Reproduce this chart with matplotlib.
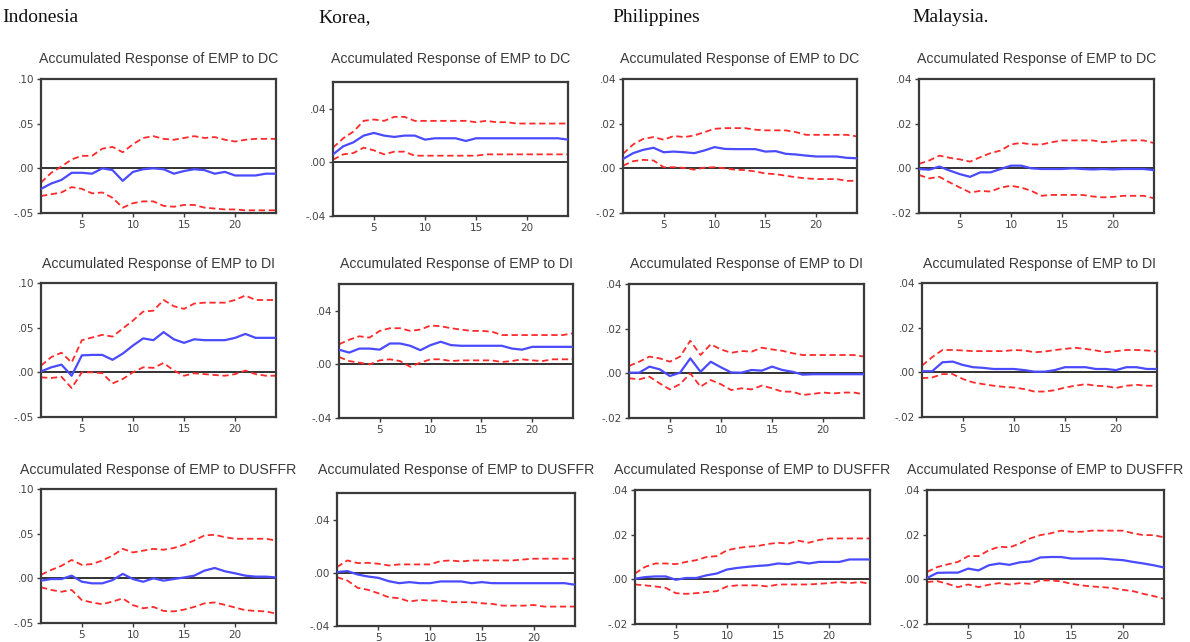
import numpy as np
import matplotlib.pyplot as plt

# periods
periods = np.arange(1, 25)

countries = ['Indonesia', 'Korea,', 'Philippines', 'Malaysia.']
shocks = ['DC', 'DI', 'DUSFFR']

# Indonesia
idn_dc_resp = [-0.023, -0.017, -0.013, -0.005, -0.005, -0.006, 0.000, -0.002, -0.014, -0.004, -0.001, 0.000,
               -0.001, -0.006, -0.003, -0.001, -0.002, -0.006, -0.004, -0.008, -0.008, -0.008, -0.006, -0.006]
idn_dc_hi = [-0.016, -0.005, 0.002, 0.010, 0.014, 0.014, 0.022, 0.024, 0.018, 0.027, 0.034, 0.036,
             0.033, 0.032, 0.034, 0.036, 0.034, 0.035, 0.032, 0.030, 0.032, 0.033, 0.033, 0.033]
idn_dc_lo = [-0.031, -0.029, -0.027, -0.021, -0.023, -0.028, -0.027, -0.033, -0.044, -0.039, -0.037, -0.037,
             -0.042, -0.043, -0.041, -0.041, -0.044, -0.045, -0.046, -0.046, -0.047, -0.047, -0.047, -0.047]
idn_di_resp = [0.001, 0.0056, 0.0086, -0.0038, 0.019, 0.0195, 0.0195, 0.014, 0.021, 0.030, 0.038, 0.036,
               0.045, 0.037, 0.033, 0.037, 0.036, 0.036, 0.036, 0.0386, 0.043, 0.0386, 0.0386, 0.0386]
idn_di_hi = [0.0075, 0.017, 0.022, 0.011, 0.036, 0.039, 0.042, 0.040, 0.049, 0.058, 0.068, 0.069,
             0.081, 0.074, 0.071, 0.077, 0.078, 0.078, 0.078, 0.081, 0.086, 0.081, 0.081, 0.081]
idn_di_lo = [-0.0056, -0.0063, -0.005, -0.0176, 0.0, 0.0, -0.001, -0.0124, -0.0075, 0.0, 0.0056, 0.005,
             0.0105, 0.002, -0.0038, -0.001, -0.002, -0.003, -0.0038, -0.002, 0.002, -0.002, -0.0038, -0.0038]
idn_us_resp = [-0.0026, -0.0008, -0.0008, 0.003, -0.0038, -0.0056, -0.0056, -0.002, 0.005, -0.0008, -0.0038, 0.0,
               -0.0026, -0.0008, 0.001, 0.003, 0.0086, 0.0116, 0.0079, 0.0056, 0.003, 0.0019, 0.0019, 0.001]
idn_us_hi = [0.004, 0.0094, 0.014, 0.0206, 0.015, 0.016, 0.0199, 0.0255, 0.033, 0.029, 0.031, 0.033,
             0.032, 0.034, 0.0376, 0.0424, 0.048, 0.0488, 0.046, 0.0443, 0.0443, 0.0443, 0.0443, 0.0424]
idn_us_lo = [-0.010, -0.013, -0.015, -0.013, -0.0244, -0.027, -0.029, -0.026, -0.0225, -0.030, -0.0335, -0.032,
             -0.0365, -0.037, -0.035, -0.032, -0.028, -0.027, -0.0297, -0.0327, -0.0357, -0.0365, -0.037, -0.0395]

# Korea
kor_dc_resp = [0.006, 0.012, 0.015, 0.020, 0.022, 0.020, 0.019, 0.020, 0.020, 0.017, 0.018, 0.018,
               0.018, 0.016, 0.018, 0.018, 0.018, 0.018, 0.018, 0.018, 0.018, 0.018, 0.018, 0.017]
kor_dc_hi = [0.011, 0.018, 0.023, 0.031, 0.032, 0.031, 0.034, 0.034, 0.031, 0.031, 0.031, 0.031,
             0.031, 0.031, 0.030, 0.031, 0.030, 0.030, 0.029, 0.029, 0.029, 0.029, 0.029, 0.029]
kor_dc_lo = [0.002, 0.006, 0.007, 0.011, 0.009, 0.006, 0.008, 0.008, 0.005, 0.005, 0.005, 0.005,
             0.005, 0.005, 0.005, 0.006, 0.006, 0.006, 0.006, 0.006, 0.006, 0.006, 0.006, 0.006]
kor_di_resp = [0.011, 0.0088, 0.0118, 0.0118, 0.011, 0.0156, 0.0156, 0.0139, 0.0106, 0.0144, 0.0169, 0.0144,
               0.0139, 0.0139, 0.0139, 0.0139, 0.0139, 0.0118, 0.011, 0.0131, 0.0131, 0.0131, 0.0131, 0.0131]
kor_di_hi = [0.015, 0.0184, 0.021, 0.020, 0.025, 0.027, 0.027, 0.025, 0.026, 0.029, 0.0285, 0.027,
             0.026, 0.025, 0.025, 0.0245, 0.0219, 0.0219, 0.0219, 0.0219, 0.0219, 0.0219, 0.0219, 0.0232]
kor_di_lo = [0.0055, 0.0025, 0.0013, 0.0, 0.003, 0.0038, 0.0025, -0.0018, 0.0013, 0.0038, 0.0038, 0.0025,
             0.003, 0.003, 0.003, 0.003, 0.0018, 0.0025, 0.0038, 0.003, 0.0025, 0.0038, 0.0038, 0.0038]
kor_us_resp = [0.0005, 0.0013, -0.0013, -0.0028, -0.0038, -0.0063, -0.0078, -0.0070, -0.0078, -0.0078, -0.0065, -0.0065,
               -0.0065, -0.0078, -0.0070, -0.0078, -0.0078, -0.0078, -0.0078, -0.0078, -0.0078, -0.0078, -0.0078, -0.0090]
kor_us_hi = [0.0043, 0.0093, 0.0073, 0.0075, 0.0068, 0.0055, 0.0063, 0.0063, 0.0063, 0.0063, 0.0088, 0.0093,
             0.0085, 0.0093, 0.0093, 0.0093, 0.0093, 0.0093, 0.0100, 0.0106, 0.0106, 0.0106, 0.0106, 0.0106]
kor_us_lo = [-0.0033, -0.0058, -0.0113, -0.0128, -0.0154, -0.0184, -0.0191, -0.0216, -0.0204, -0.0209, -0.0209, -0.0221,
             -0.0221, -0.0221, -0.0229, -0.0234, -0.0247, -0.0247, -0.0247, -0.0242, -0.0254, -0.0254, -0.0254, -0.0254]

# Philippines
phl_dc_resp = [0.0042, 0.0068, 0.0083, 0.0092, 0.0072, 0.0075, 0.0072, 0.0068, 0.0080, 0.0095, 0.0087, 0.0086,
               0.0086, 0.0086, 0.0075, 0.0077, 0.0065, 0.0062, 0.0057, 0.0053, 0.0053, 0.0053, 0.0047, 0.0045]
phl_dc_hi = [0.0065, 0.0107, 0.0132, 0.0140, 0.0128, 0.0145, 0.0140, 0.0147, 0.0162, 0.0177, 0.0180, 0.0180,
             0.0180, 0.0173, 0.0170, 0.0170, 0.0170, 0.0162, 0.0150, 0.0150, 0.0150, 0.0150, 0.0150, 0.0143]
phl_dc_lo = [0.0012, 0.0032, 0.0038, 0.0035, 0.0005, 0.0005, 0.0002, -0.0006, 0.0003, 0.0005, 0.0000, -0.0006,
             -0.0008, -0.0014, -0.0023, -0.0026, -0.0033, -0.0040, -0.0045, -0.0048, -0.0048, -0.0048, -0.0056, -0.0056]
phl_di_resp = [0.0003, 0.0003, 0.0030, 0.0018, -0.0012, 0.0003, 0.0067, 0.0007, 0.0052, 0.0027, 0.0004, 0.0003,
               0.0015, 0.0012, 0.0030, 0.0015, 0.0007, -0.0006, -0.0004, -0.0004, -0.0004, -0.0004, -0.0004, -0.0004]
phl_di_hi = [0.0033, 0.0052, 0.0075, 0.0067, 0.0052, 0.0075, 0.0146, 0.0082, 0.0130, 0.0107, 0.0092, 0.0100,
             0.0097, 0.0115, 0.0107, 0.0101, 0.0090, 0.0082, 0.0082, 0.0082, 0.0082, 0.0082, 0.0082, 0.0075]
phl_di_lo = [-0.0022, -0.0027, -0.0015, -0.0045, -0.0072, -0.0048, 0.0000, -0.0060, -0.0030, -0.0049, -0.0075, -0.0067,
             -0.0072, -0.0055, -0.0067, -0.0082, -0.0082, -0.0097, -0.0092, -0.0086, -0.0090, -0.0086, -0.0086, -0.0094]
phl_us_resp = [0.0003, 0.0010, 0.0013, 0.0013, -0.0002, 0.0006, 0.0006, 0.0018, 0.0026, 0.0044, 0.0051, 0.0056,
               0.0060, 0.0063, 0.0071, 0.0068, 0.0078, 0.0071, 0.0078, 0.0078, 0.0078, 0.0089, 0.0089, 0.0089]
phl_us_hi = [0.0026, 0.0056, 0.0071, 0.0071, 0.0068, 0.0078, 0.0086, 0.0100, 0.0104, 0.0130, 0.0140, 0.0146,
             0.0149, 0.0158, 0.0164, 0.0160, 0.0173, 0.0164, 0.0176, 0.0183, 0.0183, 0.0183, 0.0183, 0.0183]
phl_us_lo = [-0.0023, -0.0027, -0.0032, -0.0038, -0.0062, -0.0065, -0.0062, -0.0057, -0.0053, -0.0032, -0.0027, -0.0027,
             -0.0027, -0.0032, -0.0023, -0.0023, -0.0023, -0.0023, -0.0020, -0.0017, -0.0012, -0.0017, -0.0012, -0.0020]

# Malaysia
mys_dc_resp = [-0.0003, -0.0006, 0.0008, -0.0010, -0.0026, -0.0038, -0.0018, -0.0018, -0.0003, 0.0012, 0.0012, 0.0000,
               -0.0003, -0.0003, -0.0003, 0.0000, -0.0003, -0.0005, -0.0003, -0.0005, -0.0003, -0.0003, -0.0003, -0.0008]
mys_dc_hi = [0.0020, 0.0035, 0.0057, 0.0047, 0.0040, 0.0030, 0.0050, 0.0068, 0.0080, 0.0107, 0.0114, 0.0107,
             0.0107, 0.0117, 0.0125, 0.0125, 0.0125, 0.0125, 0.0117, 0.0120, 0.0125, 0.0125, 0.0125, 0.0113]
mys_dc_lo = [-0.0030, -0.0045, -0.0038, -0.0063, -0.0086, -0.0108, -0.0101, -0.0104, -0.0086, -0.0078, -0.0086, -0.0101,
             -0.0123, -0.0119, -0.0119, -0.0119, -0.0119, -0.0126, -0.0130, -0.0128, -0.0123, -0.0123, -0.0123, -0.0134]
mys_di_resp = [0.0005, 0.0005, 0.0045, 0.0048, 0.0033, 0.0023, 0.0020, 0.0015, 0.0015, 0.0015, 0.0010, 0.0003,
               0.0003, 0.0010, 0.0023, 0.0023, 0.0023, 0.0015, 0.0015, 0.0010, 0.0023, 0.0023, 0.0015, 0.0015]
mys_di_hi = [0.0030, 0.0068, 0.0100, 0.0100, 0.0098, 0.0095, 0.0095, 0.0095, 0.0095, 0.0100, 0.0098, 0.0090,
             0.0093, 0.0100, 0.0105, 0.0110, 0.0105, 0.0098, 0.0090, 0.0095, 0.0100, 0.0100, 0.0098, 0.0093]
mys_di_lo = [-0.0026, -0.0023, -0.0008, -0.0008, -0.0030, -0.0045, -0.0053, -0.0060, -0.0065, -0.0068, -0.0075, -0.0086,
             -0.0086, -0.0080, -0.0068, -0.0060, -0.0053, -0.0060, -0.0062, -0.0070, -0.0060, -0.0056, -0.0060, -0.0060]
mys_us_resp = [0.0006, 0.0029, 0.0030, 0.0030, 0.0048, 0.0040, 0.0063, 0.0071, 0.0065, 0.0076, 0.0080, 0.0098,
               0.0100, 0.0100, 0.0093, 0.0093, 0.0093, 0.0093, 0.0089, 0.0086, 0.0078, 0.0071, 0.0063, 0.0053]
mys_us_hi = [0.0033, 0.0055, 0.0067, 0.0078, 0.0104, 0.0104, 0.0130, 0.0146, 0.0143, 0.0160, 0.0183, 0.0198,
             0.0206, 0.0218, 0.0213, 0.0213, 0.0218, 0.0218, 0.0218, 0.0218, 0.0206, 0.0198, 0.0198, 0.0188]
mys_us_lo = [-0.0012, -0.0008, -0.0020, -0.0035, -0.0023, -0.0035, -0.0024, -0.0017, -0.0023, -0.0017, -0.0020, -0.0005,
             -0.0005, -0.0009, -0.0020, -0.0027, -0.0032, -0.0035, -0.0039, -0.0047, -0.0053, -0.0065, -0.0075, -0.0087]

panels = [
    [(idn_dc_resp, idn_dc_lo, idn_dc_hi), (kor_dc_resp, kor_dc_lo, kor_dc_hi),
     (phl_dc_resp, phl_dc_lo, phl_dc_hi), (mys_dc_resp, mys_dc_lo, mys_dc_hi)],
    [(idn_di_resp, idn_di_lo, idn_di_hi), (kor_di_resp, kor_di_lo, kor_di_hi),
     (phl_di_resp, phl_di_lo, phl_di_hi), (mys_di_resp, mys_di_lo, mys_di_hi)],
    [(idn_us_resp, idn_us_lo, idn_us_hi), (kor_us_resp, kor_us_lo, kor_us_hi),
     (phl_us_resp, phl_us_lo, phl_us_hi), (mys_us_resp, mys_us_lo, mys_us_hi)],
]

# axis ranges per country column
ylims = [(-0.05, 0.10), (-0.04, 0.06), (-0.02, 0.04), (-0.02, 0.04)]
yticks = [[-0.05, 0, 0.05, 0.10], [-0.04, 0, 0.04], [-0.02, 0, 0.02, 0.04], [-0.02, 0, 0.02, 0.04]]

# axes boxes in pixels (left, top, right, bottom)
W, H = 1190, 642
boxes = [
    [(41, 79, 276, 213), (333, 82, 568, 216), (623, 79, 857, 213), (919, 79, 1154, 213)],
    [(41, 283, 276, 417), (339, 284, 573, 418), (629, 284, 864, 418), (922, 283, 1157, 417)],
    [(41, 489, 276, 623), (337, 493, 575, 626), (635, 490, 870, 624), (927, 490, 1164, 624)],
]
title_y = [59, 264, 470]
country_x = [2, 318, 612, 912]

blue = '#4a4aff'
red = '#ff2a2a'
frame = '#3a3a3a'

fig = plt.figure(figsize=(W / 100, H / 100), dpi=100)


def fmt(v):
    s = f'{v:.2f}'
    return s.replace('0.', '.', 1)


for c, name in enumerate(countries):
    fig.text(country_x[c] / W, 1 - 18 / H, name, family='Liberation Serif', fontsize=14,
             ha='left', va='center', color='#111111')

for r in range(3):
    for c in range(4):
        l, t, rr, b = boxes[r][c]
        ax = fig.add_axes([l / W, 1 - b / H, (rr - l) / W, (b - t) / H])
        resp, lo, hi = panels[r][c]
        ax.axhline(0, color='#222222', lw=1.3, zorder=1)
        ax.plot(periods, hi, color=red, lw=1.3, ls=(0, (3.5, 2)), zorder=2)
        ax.plot(periods, lo, color=red, lw=1.3, ls=(0, (3.5, 2)), zorder=2)
        ax.plot(periods, resp, color=blue, lw=1.6, zorder=3)
        ax.set_xlim(1, 24)
        ax.set_ylim(*ylims[c])
        ax.set_xticks([5, 10, 15, 20])
        ax.set_yticks(yticks[c])
        ax.set_yticklabels([fmt(v) for v in yticks[c]])
        ax.tick_params(direction='out', length=3, width=1, color=frame,
                       labelsize=7.5, labelcolor='#444444', pad=2)
        for s in ax.spines.values():
            s.set_linewidth(1.6)
            s.set_color(frame)
        fig.text((l + rr) / 2 / W, 1 - title_y[r] / H,
                 'Accumulated Response of EMP to ' + shocks[r],
                 family='Liberation Sans', fontsize=10.2, color='#3a3a3a',
                 ha='center', va='center')

fig.savefig('out.png', dpi=100, facecolor='white')
